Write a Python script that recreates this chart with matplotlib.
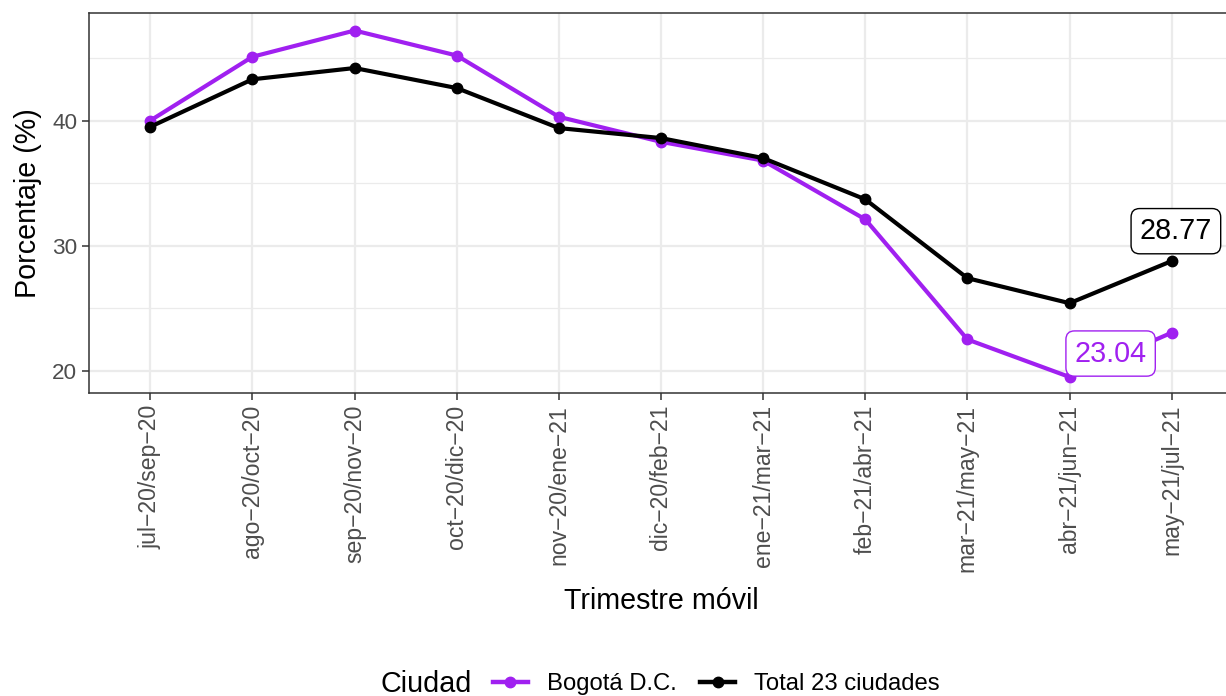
import matplotlib
matplotlib.use("Agg")
import matplotlib.pyplot as plt
from matplotlib.lines import Line2D
from matplotlib.ticker import MultipleLocator

plt.rcParams['font.family'] = ['Liberation Sans', 'DejaVu Sans']

periodos = ["jul−20/sep−20", "ago−20/oct−20", "sep−20/nov−20", "oct−20/dic−20",
            "nov−20/ene−21", "dic−20/feb−21", "ene−21/mar−21", "feb−21/abr−21",
            "mar−21/may−21", "abr−21/jun−21", "may−21/jul−21"]
bogota = [40.0, 45.1, 47.2, 45.2, 40.3, 38.3, 36.8, 32.1, 22.5, 19.5, 23.04]
total = [39.5, 43.3, 44.2, 42.6, 39.4, 38.6, 37.0, 33.7, 27.4, 25.4, 28.77]

purple = "#A020F0"
x = list(range(len(periodos)))
LW, MS = 3.0, 7.5

fig = plt.figure(figsize=(12.26, 6.96), dpi=100)
# panel runs past the right edge of the picture, as in the reference
ax = fig.add_axes([89 / 1226, (696 - 393) / 696, (1233 - 89) / 1226, (393 - 13) / 696])

ax.plot(x, bogota, color=purple, lw=LW, marker="o", ms=MS, zorder=3)
ax.plot(x, total, color="black", lw=LW, marker="o", ms=MS, zorder=4)

ax.annotate(f"{total[-1]:.2f}", (x[-1], total[-1]), xytext=(3, 21.5), textcoords="offset points",
            ha="center", va="center", fontsize=20.7, color="black", zorder=5,
            bbox=dict(boxstyle="round,pad=0.3,rounding_size=0.3", fc="white", ec="black", lw=1))
ax.annotate(f"{bogota[-1]:.2f}", (x[-1], bogota[-1]), xytext=(-44, -15), textcoords="offset points",
            ha="center", va="center", fontsize=20.7, color=purple, zorder=5,
            bbox=dict(boxstyle="round,pad=0.3,rounding_size=0.3", fc="white", ec=purple, lw=1))

ax.set_xlim(-0.6, len(periodos) - 1 + 0.6)
ax.set_ylim(18.22, 48.6)
ax.set_xticks(x)
ax.set_xticklabels(periodos, rotation=90, fontsize=16.6, color="#4D4D4D")
ax.yaxis.set_major_locator(MultipleLocator(10))
ax.yaxis.set_minor_locator(MultipleLocator(5))
ax.tick_params(axis="y", labelsize=16.2, labelcolor="#4D4D4D")
ax.tick_params(axis="both", which="major", length=5, width=1.1, color="#333333")
ax.tick_params(axis="y", which="minor", length=0)

ax.grid(True, which="major", color="#EBEBEB", lw=1.6, zorder=0)
ax.grid(True, which="minor", axis="y", color="#EBEBEB", lw=0.9, zorder=0)
ax.set_axisbelow(True)
for s in ax.spines.values():
    s.set_color("#333333")
    s.set_linewidth(1.1)

ax.set_xlabel("Trimestre móvil", fontsize=20.6, labelpad=11)
ax.set_ylabel("Porcentaje (%)", fontsize=20.6, labelpad=7)

fig.text(380 / 1226, 1 - 684 / 696, "Ciudad", fontsize=20.7, va="center", ha="left")
handles = [Line2D([], [], color=purple, lw=3.2, marker="o", ms=MS),
           Line2D([], [], color="black", lw=3.2, marker="o", ms=MS)]
fig.legend(handles, ["Bogotá D.C.", "Total 23 ciudades"], loc="center left",
           bbox_to_anchor=(493 / 1226, 1 - 684 / 696), ncol=2, frameon=False,
           fontsize=17.2, handlelength=1.45, handletextpad=0.8, columnspacing=1.0,
           borderaxespad=0, borderpad=0)

fig.savefig("out.png", dpi=100)
